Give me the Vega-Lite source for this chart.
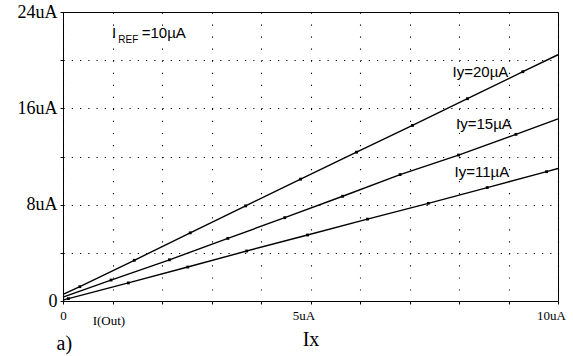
{
  "$schema": "https://vega.github.io/schema/vega-lite/v6.json",
  "width": 495,
  "height": 289,
  "autosize": {"type": "none"},
  "padding": {"left": 63, "top": 12, "right": 15, "bottom": 55},
  "background": "white",
  "config": {"view": {"stroke": "#000", "strokeWidth": 1}},
  "datasets": {
    "curves": [
      {"series": "Iy=20µA", "ix": 0, "iout": 0.55},
      {"series": "Iy=20µA", "ix": 0.34, "iout": 1.19},
      {"series": "Iy=20µA", "ix": 1.44, "iout": 3.38},
      {"series": "Iy=20µA", "ix": 2.57, "iout": 5.66},
      {"series": "Iy=20µA", "ix": 3.69, "iout": 7.9},
      {"series": "Iy=20µA", "ix": 4.8, "iout": 10.12},
      {"series": "Iy=20µA", "ix": 5.93, "iout": 12.36},
      {"series": "Iy=20µA", "ix": 7.06, "iout": 14.58},
      {"series": "Iy=20µA", "ix": 8.17, "iout": 16.8},
      {"series": "Iy=20µA", "ix": 9.29, "iout": 19.04},
      {"series": "Iy=20µA", "ix": 10, "iout": 20.45},
      {"series": "Iy=15µA", "ix": 0, "iout": 0.32},
      {"series": "Iy=15µA", "ix": 0.97, "iout": 1.74},
      {"series": "Iy=15µA", "ix": 2.15, "iout": 3.42},
      {"series": "Iy=15µA", "ix": 3.33, "iout": 5.2},
      {"series": "Iy=15µA", "ix": 4.48, "iout": 6.92},
      {"series": "Iy=15µA", "ix": 5.65, "iout": 8.7},
      {"series": "Iy=15µA", "ix": 6.81, "iout": 10.5},
      {"series": "Iy=15µA", "ix": 7.99, "iout": 12.12},
      {"series": "Iy=15µA", "ix": 9.15, "iout": 13.84},
      {"series": "Iy=15µA", "ix": 10, "iout": 15.12},
      {"series": "Iy=11µA", "ix": 0, "iout": 0.08},
      {"series": "Iy=11µA", "ix": 0.11, "iout": 0.2},
      {"series": "Iy=11µA", "ix": 1.32, "iout": 1.5},
      {"series": "Iy=11µA", "ix": 2.52, "iout": 2.82},
      {"series": "Iy=11µA", "ix": 3.71, "iout": 4.15},
      {"series": "Iy=11µA", "ix": 4.94, "iout": 5.48},
      {"series": "Iy=11µA", "ix": 6.15, "iout": 6.8},
      {"series": "Iy=11µA", "ix": 7.38, "iout": 8.11},
      {"series": "Iy=11µA", "ix": 8.57, "iout": 9.42},
      {"series": "Iy=11µA", "ix": 9.77, "iout": 10.74},
      {"series": "Iy=11µA", "ix": 10, "iout": 11.0}
    ],
    "markers": [
      {"series": "Iy=20µA", "ix": 0.34, "iout": 1.19},
      {"series": "Iy=20µA", "ix": 1.44, "iout": 3.38},
      {"series": "Iy=20µA", "ix": 2.57, "iout": 5.66},
      {"series": "Iy=20µA", "ix": 3.69, "iout": 7.9},
      {"series": "Iy=20µA", "ix": 4.8, "iout": 10.12},
      {"series": "Iy=20µA", "ix": 5.93, "iout": 12.36},
      {"series": "Iy=20µA", "ix": 7.06, "iout": 14.58},
      {"series": "Iy=20µA", "ix": 8.17, "iout": 16.8},
      {"series": "Iy=20µA", "ix": 9.29, "iout": 19.04},
      {"series": "Iy=15µA", "ix": 0.97, "iout": 1.74},
      {"series": "Iy=15µA", "ix": 2.15, "iout": 3.42},
      {"series": "Iy=15µA", "ix": 3.33, "iout": 5.2},
      {"series": "Iy=15µA", "ix": 4.48, "iout": 6.92},
      {"series": "Iy=15µA", "ix": 5.65, "iout": 8.7},
      {"series": "Iy=15µA", "ix": 6.81, "iout": 10.5},
      {"series": "Iy=15µA", "ix": 7.99, "iout": 12.12},
      {"series": "Iy=15µA", "ix": 9.15, "iout": 13.84},
      {"series": "Iy=11µA", "ix": 0.11, "iout": 0.2},
      {"series": "Iy=11µA", "ix": 1.32, "iout": 1.5},
      {"series": "Iy=11µA", "ix": 2.52, "iout": 2.82},
      {"series": "Iy=11µA", "ix": 3.71, "iout": 4.15},
      {"series": "Iy=11µA", "ix": 4.94, "iout": 5.48},
      {"series": "Iy=11µA", "ix": 6.15, "iout": 6.8},
      {"series": "Iy=11µA", "ix": 7.38, "iout": 8.11},
      {"series": "Iy=11µA", "ix": 8.57, "iout": 9.42},
      {"series": "Iy=11µA", "ix": 9.77, "iout": 10.74}
    ],
    "sansLabels": [
      {"text": "Iy=20µA", "ix": 7.87, "iout": 18.6},
      {"text": "Iy=15µA", "ix": 7.94, "iout": 14.29},
      {"text": "Iy=11µA", "ix": 7.91, "iout": 10.32},
      {"text": "I", "ix": 0.99, "iout": 21.8},
      {"text": "=10µA", "ix": 1.59, "iout": 21.8}
    ],
    "subLabels": [
      {"text": "REF", "ix": 1.117, "iout": 21.43}
    ],
    "traceLabels": [
      {"text": "I(Out)", "ix": 0.6, "iout": -2.02}
    ],
    "panelLabels": [
      {"text": "a)", "ix": -0.13, "iout": -4.07}
    ]
  },
  "layer": [
    {
      "data": {"name": "curves"},
      "mark": {"type": "line", "color": "#000", "strokeWidth": 1.4},
      "encoding": {
        "x": {
          "field": "ix", "type": "quantitative",
          "scale": {"domain": [0, 10], "nice": false, "zero": false},
          "axis": {
            "title": "Ix",
            "titleFont": "Liberation Serif", "titleFontSize": 20, "titleFontWeight": "normal",
            "titleColor": "#000", "titleY": 44, "titleBaseline": "alphabetic",
            "values": [0, 1, 2, 3, 4, 5, 6, 7, 8, 9, 10],
            "labelExpr": "datum.value == 0 ? '0' : (datum.value == 5 ? '5uA' : (datum.value == 10 ? '10uA' : ''))",
            "labelFont": "Liberation Serif", "labelFontSize": 13, "labelColor": "#000",
            "labelPadding": 5, "labelFlush": false, "labelOverlap": false,
            "labelOffset": {"expr": "datum.value == 0 ? 0 : -7"},
            "tickSize": 3, "tickColor": "#000", "domainColor": "#000", "domainWidth": 1,
            "grid": true, "gridColor": "#000", "gridOpacity": 1, "gridWidth": 1.1,
            "gridDash": [1.2, 10.84]
          }
        },
        "y": {
          "field": "iout", "type": "quantitative",
          "scale": {"domain": [0, 24], "nice": false},
          "axis": {
            "title": null,
            "values": [0, 4, 8, 12, 16, 20, 24],
            "labelExpr": "datum.value == 0 ? '0' : (datum.value % 8 == 0 ? datum.value + 'uA' : '')",
            "labelFont": "Liberation Serif", "labelFontSize": 18, "labelColor": "#000",
            "labelPadding": 3, "labelFlush": false, "labelOverlap": false,
            "tickSize": 3, "tickColor": "#000", "domainColor": "#000", "domainWidth": 1,
            "grid": true, "gridColor": "#000", "gridOpacity": 1, "gridWidth": 1.1,
            "gridDash": [1.2, 7.05]
          }
        },
        "detail": {"field": "series"}
      }
    },
    {
      "data": {"name": "markers"},
      "mark": {"type": "square", "color": "#000", "filled": true, "opacity": 1, "size": 8},
      "encoding": {
        "x": {"field": "ix", "type": "quantitative"},
        "y": {"field": "iout", "type": "quantitative"},
        "detail": {"field": "series"}
      }
    },
    {
      "data": {"name": "sansLabels"},
      "mark": {"type": "text", "font": "Liberation Sans", "fontSize": 15, "align": "left", "baseline": "alphabetic", "color": "#000"},
      "encoding": {
        "x": {"field": "ix", "type": "quantitative"},
        "y": {"field": "iout", "type": "quantitative"},
        "text": {"field": "text"}
      }
    },
    {
      "data": {"name": "subLabels"},
      "mark": {"type": "text", "font": "Liberation Sans", "fontSize": 10, "align": "left", "baseline": "alphabetic", "color": "#000"},
      "encoding": {
        "x": {"field": "ix", "type": "quantitative"},
        "y": {"field": "iout", "type": "quantitative"},
        "text": {"field": "text"}
      }
    },
    {
      "data": {"name": "traceLabels"},
      "mark": {"type": "text", "font": "Liberation Serif", "fontSize": 13, "align": "left", "baseline": "alphabetic", "color": "#000"},
      "encoding": {
        "x": {"field": "ix", "type": "quantitative"},
        "y": {"field": "iout", "type": "quantitative"},
        "text": {"field": "text"}
      }
    },
    {
      "data": {"name": "panelLabels"},
      "mark": {"type": "text", "font": "Liberation Serif", "fontSize": 20, "align": "left", "baseline": "alphabetic", "color": "#000"},
      "encoding": {
        "x": {"field": "ix", "type": "quantitative"},
        "y": {"field": "iout", "type": "quantitative"},
        "text": {"field": "text"}
      }
    }
  ]
}
